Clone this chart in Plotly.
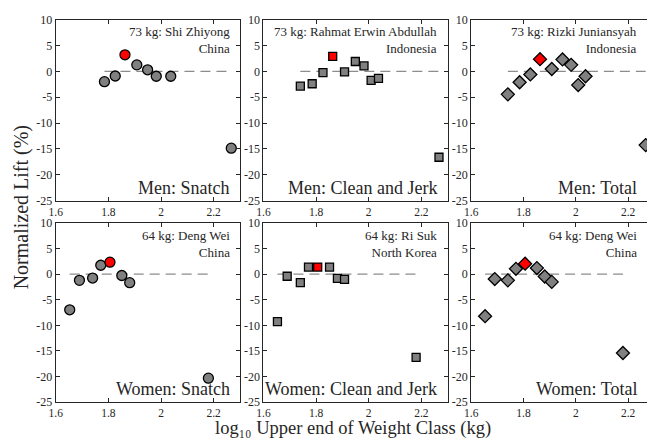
import numpy as np
import plotly.graph_objects as go

# ---------------- data ----------------
men_x_snatch = [1.785, 1.826, 1.863, 1.908, 1.949, 1.982, 2.037, 2.267]
men_y_snatch = [-2.0, -0.9, 3.2, 1.25, 0.3, -0.95, -0.95, -14.85]
men_red_snatch = 2

men_x_cj = [1.740, 1.785, 1.826, 1.863, 1.908, 1.949, 1.982, 2.009, 2.037, 2.267]
men_y_cj = [-2.85, -2.4, -0.25, 2.9, -0.12, 1.9, 1.05, -1.75, -1.35, -16.6]
men_red_cj = 3

men_x_total = [1.740, 1.785, 1.826, 1.863, 1.908, 1.949, 1.982, 2.009, 2.037, 2.267]
men_y_total = [-4.45, -2.1, -0.6, 2.35, 0.45, 2.3, 1.25, -2.65, -0.95, -14.25]
men_red_total = 3

women_x_snatch = [1.653, 1.690, 1.740, 1.771, 1.806, 1.851, 1.881, 2.18]
women_y_snatch = [-6.95, -1.2, -0.75, 1.75, 2.35, -0.25, -1.65, -20.3]
women_red_snatch = 4

women_x_cj = [1.653, 1.690, 1.740, 1.771, 1.806, 1.851, 1.881, 1.908, 2.18]
women_y_cj = [-9.25, -0.4, -1.65, 1.4, 1.4, 1.4, -0.8, -1.0, -16.25]
women_red_cj = 4

women_x_total = [1.653, 1.690, 1.740, 1.771, 1.806, 1.851, 1.881, 1.908, 2.18]
women_y_total = [-8.2, -0.95, -1.2, 1.05, 2.05, 1.2, -0.45, -1.5, -15.4]
women_red_total = 4

athletes = [
    "73 kg: Shi Zhiyong<br>China",
    "73 kg: Rahmat Erwin Abdullah<br>Indonesia",
    "73 kg: Rizki Juniansyah<br>Indonesia",
    "64 kg: Deng Wei<br>China",
    "64 kg: Ri Suk<br>North Korea",
    "64 kg: Deng Wei<br>China",
]
panel_labels = ["Men: Snatch", "Men: Clean and Jerk", "Men: Total",
                "Women: Snatch", "Women: Clean and Jerk", "Women: Total"]

y_ticks = [-25, -20, -15, -10, -5, 0, 5, 10]
y_ticktext = ["-25", "-20", "-15", "-10", "-5", "0", "5", "10"]
x_ticks = [1.6, 1.8, 2.0, 2.2]
x_ticktext = ["1.6", "1.8", "2", "2.2"]

# ---------------- layout ----------------
W, H = 647, 446
FONT = "Liberation Serif, serif"
TXT = "#262626"

col_px = [(49.3, 235.5), (259.3, 445.5), (469.3, 647.0)]
row_px = [(13.0, 200.0), (223.0, 408.0)]
x_ranges = [[1.6, 2.3], [1.6, 2.3], [1.6, 2.272]]

panels = [
    (men_x_snatch, men_y_snatch, men_red_snatch, "circle", 10),
    (men_x_cj, men_y_cj, men_red_cj, "square", 8),
    (men_x_total, men_y_total, men_red_total, "diamond", 10),
    (women_x_snatch, women_y_snatch, women_red_snatch, "circle", 10),
    (women_x_cj, women_y_cj, women_red_cj, "square", 8),
    (women_x_total, women_y_total, women_red_total, "diamond", 10),
]

fig = go.Figure()
annotations = []

for i, (xs, ys, red, sym, msz) in enumerate(panels):
    r, c = divmod(i, 3)
    n = i + 1
    xa = "x" if n == 1 else f"x{n}"
    ya = "y" if n == 1 else f"y{n}"
    # dashed zero line
    fig.add_trace(go.Scatter(
        x=[min(xs), max(xs)], y=[0, 0], mode="lines",
        line=dict(color="#8c8c8c", width=1.2, dash="10px,6px"),
        xaxis=xa, yaxis=ya, showlegend=False, hoverinfo="skip"))
    colors = ["#ff0000" if k == red else "#808080" for k in range(len(xs))]
    fig.add_trace(go.Scatter(
        x=xs, y=ys, mode="markers",
        marker=dict(symbol=sym, size=msz, color=colors,
                    line=dict(color="#000000", width=1.3)),
        xaxis=xa, yaxis=ya, showlegend=False))

    x0, x1 = col_px[c]
    y0, y1 = row_px[r]
    dom_x = [x0 / W, min(x1 / W, 1.0)]
    dom_y = [1 - y1 / H, 1 - y0 / H]
    axis_common = dict(showline=True, linecolor=TXT, linewidth=1,
                       ticks="inside", ticklen=4, tickcolor=TXT, tickwidth=1,
                       showgrid=False, zeroline=False)
    xkey = "xaxis" if n == 1 else f"xaxis{n}"
    ykey = "yaxis" if n == 1 else f"yaxis{n}"
    fig.update_layout(**{
        xkey: dict(domain=dom_x, range=x_ranges[c], anchor=ya,
                   tickvals=x_ticks, ticktext=x_ticktext,
                   tickfont=dict(family=FONT, size=11.5, color=TXT),
                   mirror="ticks", **axis_common),
        ykey: dict(domain=dom_y, range=[-25, 10], anchor=xa,
                   tickvals=y_ticks, ticktext=y_ticktext,
                   tickfont=dict(family=FONT, size=12, color=TXT),
                   mirror=("ticks" if c < 2 else False), **axis_common),
    })

    # athlete annotation (top right)
    xr = min(x1 - 8.5, 645.5)
    annotations.append(dict(
        x=xr / W, y=1 - (y0 + 3) / H, xref="paper", yref="paper",
        xanchor="right", yanchor="top", align="right", showarrow=False,
        text=athletes[i], font=dict(family=FONT, size=13, color=TXT)))
    # panel label (bottom right)
    annotations.append(dict(
        x=xr / W, y=1 - (y1 - 1) / H, xref="paper", yref="paper",
        xanchor="right", yanchor="bottom", showarrow=False,
        text=panel_labels[i], font=dict(family=FONT, size=18, color=TXT)))

annotations.append(dict(
    x=15 / W, y=1 - 207 / H, xref="paper", yref="paper",
    xanchor="center", yanchor="middle", textangle=-90, showarrow=False,
    text="Normalized Lift (%)", font=dict(family=FONT, size=20, color=TXT)))
annotations.append(dict(
    x=350 / W, y=-1.5 / H, xref="paper", yref="paper",
    xanchor="center", yanchor="bottom", showarrow=False, borderpad=0,
    text="log\u2081\u2080 Upper end of Weight Class (kg)",
    font=dict(family=FONT, size=18.5, color=TXT)))

fig.update_layout(
    width=W, height=H, margin=dict(l=0, r=0, t=0, b=0),
    paper_bgcolor="white", plot_bgcolor="white",
    annotations=annotations, showlegend=False)

fig.write_html("out.html")
